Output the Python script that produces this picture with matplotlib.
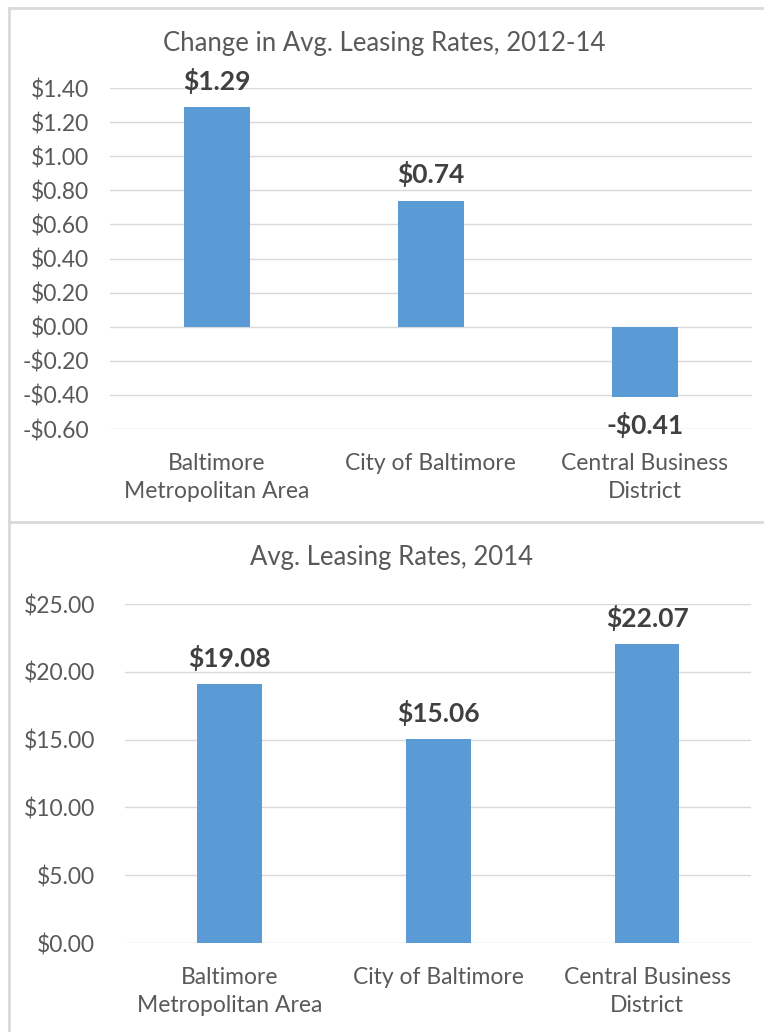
import matplotlib.pyplot as plt
from matplotlib.lines import Line2D

# ---------- Data ----------
categories = ["Baltimore\nMetropolitan Area", "City of Baltimore", "Central Business\nDistrict"]
change_vals = [1.29, 0.74, -0.41]
rate_vals = [19.08, 15.06, 22.07]

change_ticks = [-0.6, -0.4, -0.2, 0.0, 0.2, 0.4, 0.6, 0.8, 1.0, 1.2, 1.4]
rate_ticks = [0, 5, 10, 15, 20, 25]

# ---------- Style ----------
plt.rcParams['font.family'] = ['Lato', 'DejaVu Sans']
bar_col = "#5B9BD5"
grid_col = "#D9D9D9"
txt_col = "#595959"
lab_col = "#404040"


def money(v):
    return f"-${abs(v):.2f}" if v < 0 else f"${v:.2f}"


def style_ax(ax, ticks, title, title_x, title_y, xpad, ypad):
    ax.set_yticks(ticks)
    ax.set_yticklabels([money(t) for t in ticks], color=txt_col, fontsize=16.5)
    ax.yaxis.grid(True, color=grid_col, linewidth=1)
    ax.set_axisbelow(True)
    for s in ax.spines.values():
        s.set_visible(False)
    ax.tick_params(axis="y", length=0, pad=ypad)
    ax.tick_params(axis="x", length=0, pad=xpad)
    ax.set_xticks(range(len(categories)))
    ax.set_xticklabels(categories, color=txt_col, fontsize=16.5, linespacing=1.45)
    ax.set_xlim(-0.5, len(categories) - 0.5)
    # title centred on the whole chart panel, not only the plot area
    fig.text(title_x, title_y, title, ha="center", va="center",
             color=txt_col, fontsize=18.5)


def bar_labels(ax, vals):
    for i, v in enumerate(vals):
        ax.annotate(money(v), (i, v), xytext=(0, 9.5 if v >= 0 else -11),
                    textcoords="offset points", ha="center",
                    va="bottom" if v >= 0 else "top",
                    fontsize=19, fontweight="bold", color=lab_col)


W, H = 764, 1032
fig = plt.figure(figsize=(7.64, 10.32), dpi=100)

# top chart
ax1 = fig.add_axes([0.144, 0.5843, 0.840, 0.3304])
ax1.bar(range(len(categories)), change_vals, width=0.31, color=bar_col, zorder=3)
ax1.set_ylim(-0.6, 1.4)
style_ax(ax1, change_ticks, "Change in Avg. Leasing Rates, 2012-14",
         384 / W, 1 - 44 / H, 17, 15)
bar_labels(ax1, change_vals)

# bottom chart
ax2 = fig.add_axes([0.1636, 0.0862, 0.820, 0.3285])
ax2.bar(range(len(categories)), rate_vals, width=0.31, color=bar_col, zorder=3)
ax2.set_ylim(0, 25)
style_ax(ax2, rate_ticks, "Avg. Leasing Rates, 2014",
         392 / W, 1 - 557 / H, 17, 21.5)
bar_labels(ax2, rate_vals)

# panel borders
def px(x0, y0, x1, y1):
    fig.add_artist(Line2D([x0 / W, x1 / W], [1 - y0 / H, 1 - y1 / H],
                          color=grid_col, linewidth=2, transform=fig.transFigure))

px(8.5, 7.5, 764, 7.5)
px(8.5, 7.5, 8.5, 1032)
px(8.5, 521.5, 764, 521.5)

fig.savefig("out.png", dpi=100, facecolor="white")
